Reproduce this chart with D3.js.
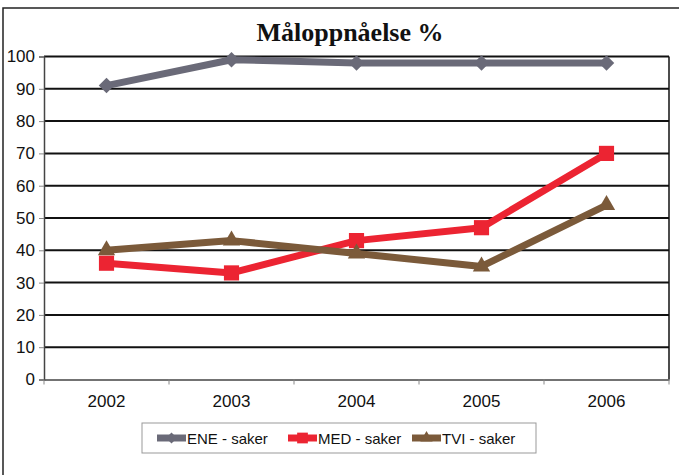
<!DOCTYPE html>
<html>
<head>
<meta charset="utf-8">
<script src="https://d3js.org/d3.v7.min.js"></script>
<style>
  body { margin: 0; background: #fff; }
  text { font-family: Arial, "Liberation Sans", sans-serif; fill: #111; }
  .title { font-family: "Liberation Serif", "Times New Roman", serif; font-weight: bold; font-size: 26px; }
  .grid line { stroke: #111; stroke-width: 2px; }
</style>
</head>
<body>
<svg width="679" height="475"></svg>
<script>
var years = ["2002", "2003", "2004", "2005", "2006"];
var yTicks = [0, 10, 20, 30, 40, 50, 60, 70, 80, 90, 100];
var ene = [91, 99, 98, 98, 98];
var med = [36, 33, 43, 47, 70];
var tvi = [40, 43, 39, 35, 54];
var seriesNames = ["ENE - saker", "MED - saker", "TVI - saker"];
var seriesColors = ["#6a6a78", "#ec2432", "#7b5a3a"];
var seriesShapes = [d3.symbolSquare, d3.symbolSquare, d3.symbolTriangle];
var seriesRotate = [45, 0, 0];

var svg = d3.select("svg");
var plotLeft = 44, plotRight = 669, plotTop = 56.5, plotBottom = 379.5;

// outer frame
svg.append("rect").attr("x", 3).attr("y", 8).attr("width", 700).attr("height", 500)
  .attr("fill", "none").attr("stroke", "#222").attr("stroke-width", 1.5);

svg.append("text").attr("class", "title").attr("x", 350).attr("y", 41)
  .attr("text-anchor", "middle").text("Måloppnåelse %");

var x = d3.scaleBand().domain(years).range([plotLeft, plotRight]);
var y = d3.scaleLinear().domain([0, 100]).range([plotBottom, plotTop]);

// gridlines
svg.append("g").attr("class", "grid").selectAll("line")
  .data(yTicks.filter(function(d) { return d > 0; }))
  .enter().append("line")
  .attr("x1", plotLeft).attr("x2", plotRight)
  .attr("y1", function(d) { return y(d); }).attr("y2", function(d) { return y(d); });

// right border
svg.append("line").attr("x1", plotRight).attr("x2", plotRight).attr("y1", plotTop).attr("y2", plotBottom)
  .attr("stroke", "#111").attr("stroke-width", 1.5);

var yAxis = svg.append("g").attr("transform", "translate(" + plotLeft + ",0)")
  .call(d3.axisLeft(y).tickValues(yTicks).tickSize(5).tickPadding(4));
yAxis.select(".domain").attr("stroke", "#444").attr("stroke-width", 1.5);
yAxis.selectAll(".tick line").attr("stroke", "#888");
yAxis.selectAll("text").style("font-size", "17px").attr("fill", "#111");

var xAxis = svg.append("g").attr("transform", "translate(0," + plotBottom + ")")
  .call(d3.axisBottom(x).tickSize(0).tickPadding(15));
xAxis.select(".domain").attr("stroke", "#444").attr("stroke-width", 1.5);
xAxis.selectAll("text").style("font-size", "17px").attr("fill", "#111");
// ticks between categories
xAxis.selectAll(".sep").data(d3.range(years.length + 1)).enter().append("line")
  .attr("x1", function(i) { return plotLeft + i * x.bandwidth(); })
  .attr("x2", function(i) { return plotLeft + i * x.bandwidth(); })
  .attr("y1", 0).attr("y2", 5).attr("stroke", "#888");

var data = [ene, med, tvi];
var line = d3.line()
  .x(function(d, i) { return x(years[i]) + x.bandwidth() / 2; })
  .y(function(d) { return y(d); });
var symSizes = [120, 230, 130];

data.forEach(function(vals, s) {
  svg.append("path").datum(vals).attr("d", line)
    .attr("fill", "none").attr("stroke", seriesColors[s]).attr("stroke-width", 7)
    .attr("stroke-linejoin", "round");
  svg.append("g").selectAll("path").data(vals).enter().append("path")
    .attr("transform", function(d, i) {
      return "translate(" + (x(years[i]) + x.bandwidth() / 2) + "," + y(d) + ") rotate(" + seriesRotate[s] + ")";
    })
    .attr("d", d3.symbol().type(seriesShapes[s]).size(symSizes[s]))
    .attr("fill", seriesColors[s]);
});

// legend
var lg = svg.append("g");
lg.append("rect").attr("x", 142).attr("y", 423).attr("width", 394).attr("height", 30)
  .attr("fill", "#fff").attr("stroke", "#999").attr("stroke-width", 1);
var legX = [157, 288, 412];
seriesNames.forEach(function(n, s) {
  var g = lg.append("g").attr("transform", "translate(" + legX[s] + ",438)");
  g.append("line").attr("x1", 0).attr("x2", 29).attr("stroke", seriesColors[s]).attr("stroke-width", 7);
  g.append("path").attr("transform", "translate(14.5,0) rotate(" + seriesRotate[s] + ")")
    .attr("d", d3.symbol().type(seriesShapes[s]).size(symSizes[s] * 0.5))
    .attr("fill", seriesColors[s]);
  g.append("text").attr("x", 30).attr("y", 6).style("font-size", "15px").text(n);
});
</script>
</body>
</html>
